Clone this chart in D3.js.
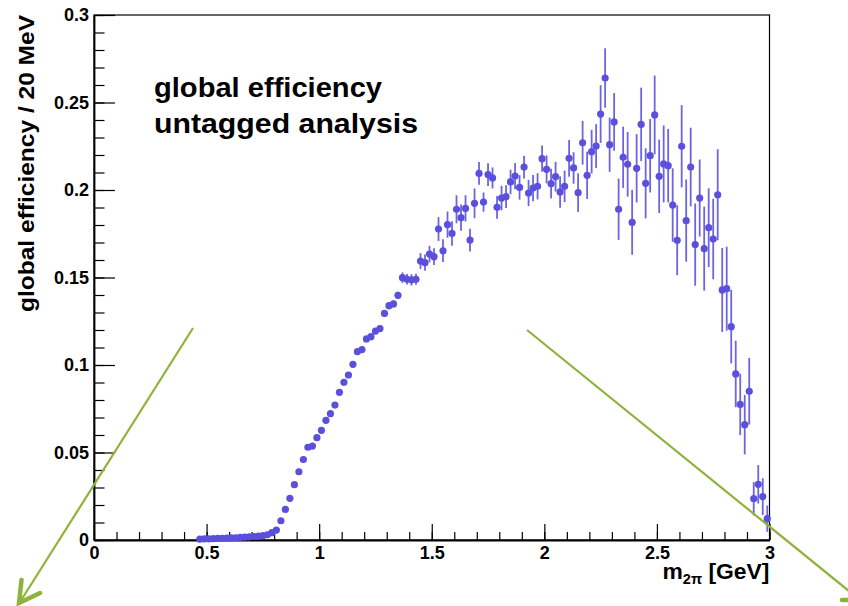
<!DOCTYPE html>
<html><head><meta charset="utf-8">
<script src="https://cdn.jsdelivr.net/npm/d3@7"></script>
<style>
html,body{margin:0;padding:0;background:#fff;}
svg{display:block;font-family:"Liberation Sans",Arial,Helvetica,sans-serif;font-weight:bold;}
</style></head>
<body>
<svg id="c" width="848" height="606"></svg>
<script>
// bin centres (GeV)
const mass = [0.47,0.49,0.51,0.53,0.55,0.57,0.59,0.61,0.63,0.65,0.67,0.69,0.71,0.73,0.75,0.77,0.79,
0.81,0.83,0.85,0.87,0.89,0.91,0.93,0.95,0.97,0.99,1.01,1.03,1.05,1.07,1.09,1.11,1.13,1.15,1.17,1.19,
1.21,1.23,1.25,1.27,1.29,1.31,1.33,1.35,1.37,1.39,1.41,1.43,1.45,1.47,1.49,1.51,1.53,1.55,1.57,1.59,
1.61,1.63,1.65,1.67,1.69,1.71,1.73,1.75,1.77,1.79,1.81,1.83,1.85,1.87,1.89,1.91,1.93,1.95,1.97,1.99,
2.01,2.03,2.05,2.07,2.09,2.11,2.13,2.15,2.17,2.19,2.21,2.23,2.25,2.27,2.29,2.31,2.33,2.35,2.37,2.39,
2.41,2.43,2.45,2.47,2.49,2.51,2.53,2.55,2.57,2.59,2.61,2.63,2.65,2.67,2.69,2.71,2.73,2.75,2.77,2.79,
2.81,2.83,2.85,2.87,2.89,2.91,2.93,2.95,2.97,2.99];
// global efficiency per bin
const efficiency = [0.0005,0.0006,0.0007,0.0008,0.0009,0.0010,0.0011,0.0012,0.0013,0.0015,0.0016,0.0018,0.0020,0.0022,0.0025,0.0030,0.0042,
0.0057,0.0110,0.0175,0.0238,0.0316,0.0390,0.0460,0.0530,0.0537,0.0585,0.0627,0.0684,0.0722,0.0771,0.0844,0.0901,0.0943,0.1004,0.1076,0.1088,
0.1149,0.1162,0.1194,0.1208,0.1295,0.1339,0.1349,0.1398,0.1499,0.1490,0.1486,0.1490,0.1594,0.1585,0.1634,0.1619,0.1777,0.1653,0.1802,0.1752,
0.1890,0.1842,0.1895,0.1714,0.1924,0.2095,0.1931,0.2088,0.2069,0.1901,0.1954,0.1962,0.2046,0.2080,0.2015,0.2131,0.1983,0.2011,0.2021,0.2179,
0.2118,0.2036,0.2076,0.1989,0.2021,0.2181,0.2126,0.1985,0.2270,0.2084,0.2219,0.2251,0.2434,0.2640,0.2259,0.2389,0.1890,0.2187,0.2147,0.1815,
0.2124,0.2375,0.2038,0.2196,0.2429,0.2078,0.2149,0.2139,0.1914,0.1713,0.2250,0.1825,0.2131,0.1688,0.1954,0.1665,0.1785,0.1720,0.1973,0.1429,
0.1436,0.1219,0.0949,0.0775,0.0659,0.0850,0.0236,0.0318,0.0248,0.0122];
// statistical uncertainty per bin
const uncertainty = [0.0003,0.0003,0.0003,0.0003,0.0003,0.0003,0.0003,0.0003,0.0003,0.0003,0.0003,0.0003,0.0003,0.0003,0.0003,0.0004,0.0004,
0.0005,0.0007,0.0008,0.0008,0.0009,0.0009,0.0010,0.0010,0.0011,0.0011,0.0012,0.0012,0.0013,0.0013,0.0014,0.0015,0.0015,0.0016,0.0016,0.0017,
0.0017,0.0018,0.0018,0.0019,0.0019,0.0020,0.0020,0.0021,0.0030,0.0030,0.0032,0.0032,0.0045,0.0046,0.0047,0.0048,0.0068,0.0065,0.0075,0.0070,
0.0080,0.0075,0.0075,0.0065,0.0085,0.0065,0.0055,0.0065,0.0060,0.0065,0.0070,0.0065,0.0070,0.0075,0.0070,0.0065,0.0075,0.0075,0.0075,0.0075,
0.0080,0.0085,0.0085,0.0090,0.0090,0.0105,0.0090,0.0110,0.0125,0.0135,0.0125,0.0125,0.0165,0.0170,0.0155,0.0165,0.0175,0.0175,0.0185,0.0185,
0.0195,0.0210,0.0200,0.0210,0.0225,0.0210,0.0220,0.0210,0.0210,0.0200,0.0235,0.0235,0.0225,0.0235,0.0220,0.0240,0.0225,0.0230,0.0260,0.0240,
0.0240,0.0210,0.0190,0.0175,0.0170,0.0190,0.0095,0.0110,0.0105,0.0075];
const xTickLabels = ["0","0.5","1","1.5","2","2.5","3"];
const yTickLabels = ["0","0.05","0.1","0.15","0.2","0.25","0.3"];

const svg = d3.select("#c");
const X0 = 94, X1 = 769.5, Y0 = 540, Y1 = 15;
const x = d3.scaleLinear().domain([0,3]).range([X0,X1]);
const y = d3.scaleLinear().domain([0,0.3]).range([Y0,Y1]);

// frame
svg.append("rect").attr("x",X0).attr("y",Y1).attr("width",X1-X0).attr("height",Y0-Y1)
  .attr("fill","none").attr("stroke","#000").attr("stroke-width",1.2);

// x axis
const xMinor = d3.range(0,31).map(i=>i/10);
svg.append("g").attr("transform",`translate(0,${Y0})`)
  .call(d3.axisBottom(x).tickValues(xMinor).tickSize(-8).tickSizeOuter(0).tickFormat(""))
  .call(g=>{g.select(".domain").remove(); g.selectAll("line").attr("stroke","#000").attr("stroke-width",1.2);});
svg.append("g").attr("transform",`translate(0,${Y0})`)
  .call(d3.axisBottom(x).tickValues(xTickLabels.map(Number)).tickSize(-16).tickSizeOuter(0).tickPadding(6)
    .tickFormat((d,i)=>xTickLabels[i]))
  .call(g=>{g.select(".domain").attr("stroke","#000").attr("stroke-width",1.8);
    g.selectAll("line").attr("stroke","#000").attr("stroke-width",1.2);
    g.selectAll("text").attr("font-size",18).attr("font-weight","bold").attr("fill","#000")
      .attr("font-family","Liberation Sans, Arial, sans-serif");});

// y axis
const yMinor = d3.range(0,31).map(i=>i/100);
svg.append("g").attr("transform",`translate(${X0},0)`)
  .call(d3.axisLeft(y).tickValues(yMinor).tickSize(-10.5).tickSizeOuter(0).tickFormat(""))
  .call(g=>{g.select(".domain").remove(); g.selectAll("line").attr("stroke","#000").attr("stroke-width",1.2);});
svg.append("g").attr("transform",`translate(${X0},0)`)
  .call(d3.axisLeft(y).tickValues(yTickLabels.map(Number)).tickSize(-21).tickSizeOuter(0).tickPadding(5)
    .tickFormat((d,i)=>yTickLabels[i]))
  .call(g=>{g.select(".domain").attr("stroke","#000").attr("stroke-width",1.8);
    g.selectAll("line").attr("stroke","#000").attr("stroke-width",1.2);
    g.selectAll("text").attr("font-size",18).attr("font-weight","bold").attr("fill","#000")
      .attr("font-family","Liberation Sans, Arial, sans-serif");});

// data
const data = mass.map((m,i)=>({m, v:efficiency[i], e:uncertainty[i]}));
const col = "#5a50dc";
svg.append("g").selectAll("line").data(data).join("line")
  .attr("x1",d=>x(d.m)).attr("x2",d=>x(d.m))
  .attr("y1",d=>y(d.v-d.e)).attr("y2",d=>y(d.v+d.e))
  .attr("stroke","#6d64e4").attr("stroke-width",1.8);
svg.append("g").selectAll("circle").data(data).join("circle")
  .attr("cx",d=>x(d.m)).attr("cy",d=>y(d.v)).attr("r",3.6).attr("fill",col);

// axis titles
svg.append("text").attr("transform","translate(33.5,15) rotate(-90)")
  .attr("text-anchor","end").attr("font-size",22).attr("fill","#000")
  .attr("textLength",297).attr("lengthAdjust","spacingAndGlyphs")
  .text("global efficiency / 20 MeV");
const xt = svg.append("text").attr("x",X1).attr("y",579).attr("text-anchor","end")
  .attr("font-size",22).attr("fill","#000")
  .attr("textLength",107).attr("lengthAdjust","spacingAndGlyphs");
xt.append("tspan").text("m");
xt.append("tspan").attr("font-size",14).attr("dy",5).text("2π");
xt.append("tspan").attr("dy",-5).text("\u00a0[GeV]");

// annotation
svg.append("text").attr("x",154).attr("y",96.7).attr("font-size",28.5).attr("fill","#000")
  .attr("textLength",228).attr("lengthAdjust","spacingAndGlyphs").text("global efficiency");
svg.append("text").attr("x",154).attr("y",133.3).attr("font-size",28.5).attr("fill","#000")
  .attr("textLength",264).attr("lengthAdjust","spacingAndGlyphs").text("untagged analysis");

// green arrows
const green = "#8db33b";
svg.append("line").attr("x1",193).attr("y1",328).attr("x2",20).attr("y2",602)
  .attr("stroke",green).attr("stroke-width",2.2);
svg.append("path").attr("d","M21.5,580 L19,603 L40,593").attr("fill","none")
  .attr("stroke",green).attr("stroke-width",4.5).attr("stroke-linejoin","miter").attr("stroke-linecap","round");
svg.append("line").attr("x1",527).attr("y1",330).attr("x2",860).attr("y2",600)
  .attr("stroke",green).attr("stroke-width",2.2);
svg.append("line").attr("x1",842).attr("y1",600).attr("x2",856).attr("y2",600)
  .attr("stroke",green).attr("stroke-width",4.5).attr("stroke-linecap","round");
</script>
</body></html>
